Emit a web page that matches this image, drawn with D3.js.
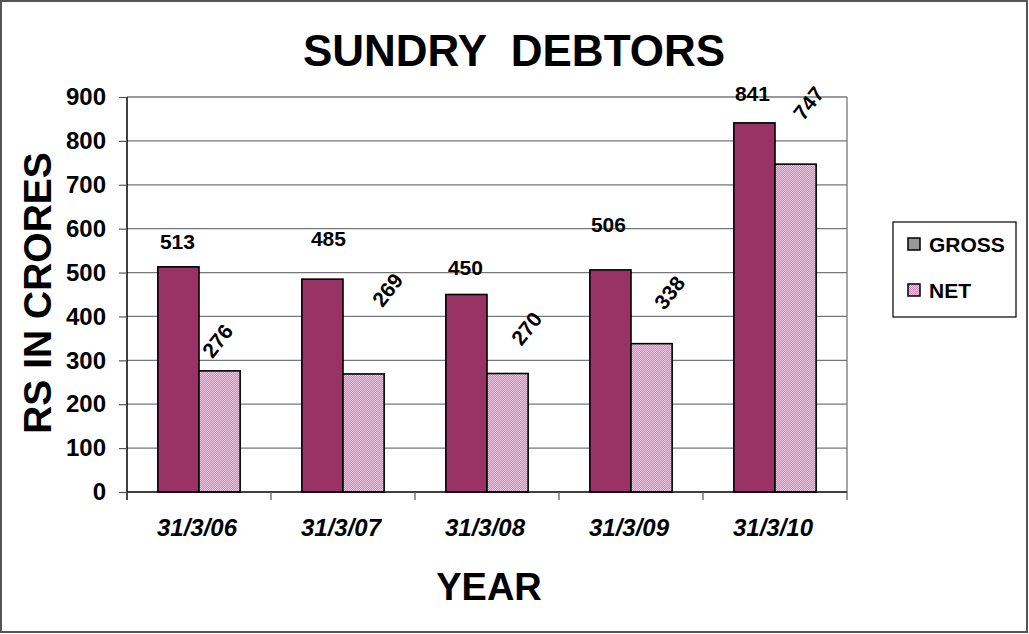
<!DOCTYPE html>
<html>
<head>
<meta charset="utf-8">
<script src="https://cdn.jsdelivr.net/npm/d3@7"></script>
<style>
  html, body { margin: 0; padding: 0; background: #fff; }
  svg { display: block; font-family: "Liberation Sans", Arial, sans-serif; }
</style>
</head>
<body>
<svg id="chart" width="1029" height="634"></svg>
<script>
// ---- data ----
const categories = ["31/3/06", "31/3/07", "31/3/08", "31/3/09", "31/3/10"];
const grossValues = [513, 485, 450, 506, 841];
const netValues = [276, 269, 270, 338, 747];
const seriesNames = ["GROSS", "NET"];
const yTicks = [0, 100, 200, 300, 400, 500, 600, 700, 800, 900];

// ---- layout (label nudges as placed in the original, in px) ----
const grossLabelNudge = [[-1, -25], [6, -40], [-1, -27], [-2, -45], [-2, -29]];
const netLabelNudge = [[-2, -30], [24, -84], [19, -45], [18, -51], [13, -61]];

const svg = d3.select("#chart");
const plot = { left: 127, right: 847, top: 97, bottom: 492 };

// pattern for NET
const defs = svg.append("defs");
const pat = defs.append("pattern").attr("id", "netPat")
  .attr("patternUnits", "userSpaceOnUse").attr("width", 2).attr("height", 2);
pat.append("rect").attr("width", 2).attr("height", 2).attr("fill", "#ecc6e0");
pat.append("rect").attr("x", 0).attr("y", 0).attr("width", 1).attr("height", 1).attr("fill", "#cc8ab8");
pat.append("rect").attr("x", 1).attr("y", 1).attr("width", 1).attr("height", 1).attr("fill", "#cc8ab8");

const colors = { GROSS: "#993366", NET: "url(#netPat)" };
const legendColors = { GROSS: "#999999", NET: "url(#netPat)" };

// outer frame
svg.append("rect").attr("x", 1).attr("y", 1).attr("width", 1026).attr("height", 631)
  .attr("fill", "#fff").attr("stroke", "#555").attr("stroke-width", 2);

const x0 = d3.scaleBand().domain(categories).range([plot.left, plot.right]).padding(0);
const x1 = d3.scaleBand().domain(seriesNames).range([0, x0.bandwidth()])
  .paddingInner(0).paddingOuter(0.75);
const y = d3.scaleLinear().domain([0, 900]).range([plot.bottom, plot.top]);

// gridlines
svg.append("g").selectAll("line").data(yTicks.filter(d => d > 0)).join("line")
  .attr("x1", plot.left).attr("x2", plot.right)
  .attr("y1", d => y(d)).attr("y2", d => y(d))
  .attr("stroke", "#777").attr("stroke-width", 1.3);
// right plot border
svg.append("line").attr("x1", plot.right).attr("x2", plot.right)
  .attr("y1", plot.top).attr("y2", plot.bottom)
  .attr("stroke", "#777").attr("stroke-width", 1.3);

// y axis
const yAxis = d3.axisLeft(y).tickValues(yTicks).tickSize(8).tickPadding(13);
const gy = svg.append("g").attr("transform", `translate(${plot.left},0)`).call(yAxis);
gy.select(".domain").attr("stroke", "#000").attr("stroke-width", 1.5)
  .attr("d", `M0,${plot.top}V${plot.bottom + 8}`);
gy.selectAll(".tick line").attr("stroke", "#555").attr("stroke-width", 1.2);
gy.selectAll(".tick text").attr("font-size", 24).attr("font-weight", "bold")
  .attr("fill", "#000").attr("font-family", "Liberation Sans, Arial, sans-serif");

// bars
const data = categories.map((c, i) => ({ cat: c, i, GROSS: grossValues[i], NET: netValues[i] }));
const groups = svg.append("g").selectAll("g").data(data).join("g")
  .attr("transform", d => `translate(${x0(d.cat)},0)`);
groups.selectAll("rect").data(d => seriesNames.map(s => ({ s, v: d[s] }))).join("rect")
  .attr("x", d => x1(d.s)).attr("width", x1.bandwidth())
  .attr("y", d => y(d.v)).attr("height", d => y(0) - y(d.v))
  .attr("fill", d => colors[d.s]).attr("stroke", "#000").attr("stroke-width", 1.6);

// x axis
const gx = svg.append("g").attr("transform", `translate(0,${plot.bottom})`);
gx.append("line").attr("x1", plot.left).attr("x2", plot.right).attr("stroke", "#000").attr("stroke-width", 1.5);
const boundaries = categories.map(c => x0(c)).concat([plot.right]);
gx.selectAll("line.tk").data(boundaries).join("line").attr("class", "tk")
  .attr("x1", d => d).attr("x2", d => d).attr("y1", 0).attr("y2", 8)
  .attr("stroke", "#555").attr("stroke-width", 1.2);
gx.selectAll("text").data(categories).join("text")
  .attr("x", d => x0(d) + x0.bandwidth() / 2 - 2).attr("y", 44)
  .attr("text-anchor", "middle").attr("font-size", 24).attr("font-weight", "bold")
  .attr("font-style", "italic").text(d => d);

// gross labels
svg.append("g").selectAll("text").data(data).join("text")
  .attr("x", d => x0(d.cat) + x1("GROSS") + x1.bandwidth() / 2 + grossLabelNudge[d.i][0])
  .attr("y", d => y(d.GROSS) + grossLabelNudge[d.i][1])
  .attr("dy", "0.35em").attr("text-anchor", "middle")
  .attr("font-size", 21).attr("font-weight", "bold").text(d => d.GROSS);

// net labels (rotated)
svg.append("g").selectAll("text").data(data).join("text")
  .attr("transform", d => {
    const cx = x0(d.cat) + x1("NET") + x1.bandwidth() / 2 + netLabelNudge[d.i][0];
    const cy = y(d.NET) + netLabelNudge[d.i][1];
    return `translate(${cx},${cy}) rotate(-52)`;
  })
  .attr("dy", "0.35em").attr("text-anchor", "middle")
  .attr("font-size", 21).attr("font-weight", "bold").text(d => d.NET);

// title
svg.append("text").attr("x", 514).attr("y", 66).attr("text-anchor", "middle")
  .attr("font-size", 44).attr("font-weight", "bold").attr("xml:space", "preserve")
  .style("white-space", "pre").text("SUNDRY  DEBTORS");

// axis titles
svg.append("text").attr("transform", "translate(51,293) rotate(-90)")
  .attr("text-anchor", "middle").attr("font-size", 39).attr("font-weight", "bold")
  .text("RS IN CRORES");
svg.append("text").attr("x", 489).attr("y", 600).attr("text-anchor", "middle")
  .attr("font-size", 38).attr("font-weight", "bold").text("YEAR");

// legend
const lg = svg.append("g");
lg.append("rect").attr("x", 893).attr("y", 222).attr("width", 123).attr("height", 95)
  .attr("fill", "#fff").attr("stroke", "#000").attr("stroke-width", 1.2);
const li = lg.selectAll("g").data(seriesNames).join("g")
  .attr("transform", (d, i) => `translate(908,${244 + i * 46})`);
li.append("rect").attr("x", 0).attr("y", -6).attr("width", 12).attr("height", 12)
  .attr("fill", d => legendColors[d]).attr("stroke", "#000").attr("stroke-width", 1.5);
li.append("text").attr("x", 21).attr("y", 8).attr("font-size", 21).attr("font-weight", "bold")
  .text(d => d);
</script>
</body>
</html>
